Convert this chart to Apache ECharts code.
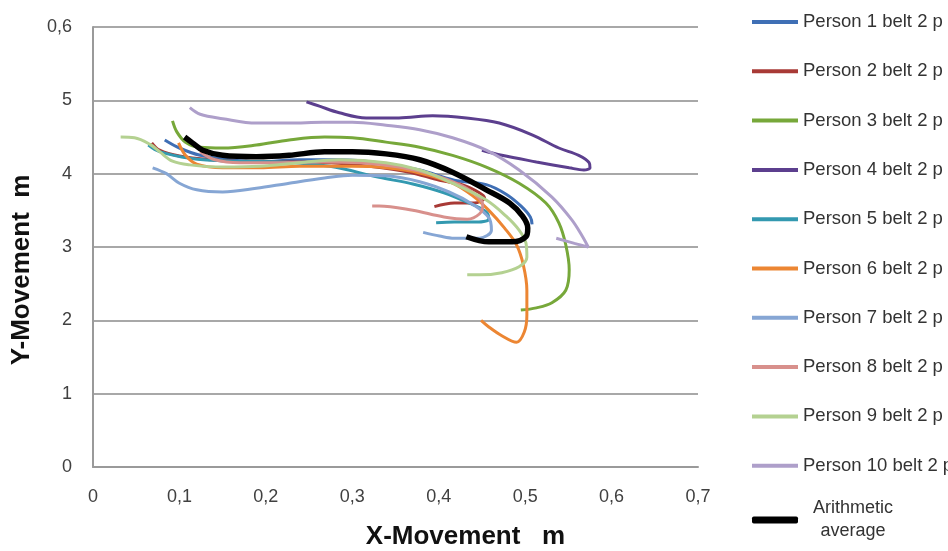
<!DOCTYPE html>
<html>
<head>
<meta charset="utf-8">
<script src="https://cdn.jsdelivr.net/npm/echarts@6/dist/echarts.min.js"></script>
<style>
html,body{margin:0;padding:0;background:#fff;}
#chart{width:948px;height:551px;}
</style>
</head>
<body>
<div id="chart"></div>
<script>
// ---- data (x in m, y in m) ----
var xTickLabels = ['0','0,1','0,2','0,3','0,4','0,5','0,6','0,7'];
var yTickLabels = ['0','1','2','3','4','5','0,6'];
var seriesNames = ['Person 1 belt 2 p','Person 2 belt 2 p','Person 3 belt 2 p','Person 4 belt 2 p','Person 5 belt 2 p','Person 6 belt 2 p','Person 7 belt 2 p','Person 8 belt 2 p','Person 9 belt 2 p','Person 10 belt 2 p','Arithmetic average'];

var person1 = [[0.083,4.46],[0.100,4.35],[0.124,4.25],[0.158,4.19],[0.193,4.16],[0.239,4.19],[0.285,4.19],[0.331,4.15],[0.378,4.05],[0.418,3.91],[0.455,3.85],[0.478,3.72],[0.495,3.56],[0.506,3.41],[0.508,3.31]];
var person2 = [[0.068,4.42],[0.077,4.32],[0.100,4.24],[0.135,4.19],[0.181,4.16],[0.227,4.16],[0.274,4.15],[0.320,4.10],[0.366,4.02],[0.401,3.91],[0.427,3.85],[0.447,3.74],[0.453,3.67],[0.441,3.60],[0.418,3.60],[0.395,3.55]];
var person3 = [[0.092,4.72],[0.097,4.57],[0.107,4.43],[0.124,4.36],[0.150,4.35],[0.189,4.39],[0.227,4.46],[0.268,4.50],[0.300,4.49],[0.339,4.43],[0.378,4.36],[0.416,4.25],[0.455,4.09],[0.493,3.87],[0.524,3.60],[0.539,3.33],[0.547,3.03],[0.551,2.69],[0.547,2.41],[0.531,2.24],[0.513,2.17],[0.495,2.14]];
var person4 = [[0.247,4.98],[0.262,4.92],[0.285,4.83],[0.316,4.76],[0.354,4.76],[0.393,4.79],[0.432,4.76],[0.470,4.69],[0.508,4.53],[0.539,4.35],[0.562,4.25],[0.574,4.15],[0.575,4.08],[0.568,4.05],[0.551,4.08],[0.513,4.16],[0.473,4.25],[0.450,4.32]];
var person5 = [[0.064,4.39],[0.077,4.30],[0.112,4.21],[0.158,4.17],[0.216,4.16],[0.274,4.10],[0.331,3.95],[0.370,3.86],[0.406,3.74],[0.435,3.60],[0.455,3.48],[0.458,3.38],[0.441,3.34],[0.418,3.34],[0.397,3.33]];
var person6 = [[0.099,4.42],[0.107,4.25],[0.120,4.13],[0.150,4.08],[0.193,4.08],[0.239,4.10],[0.300,4.10],[0.339,4.08],[0.378,4.01],[0.416,3.87],[0.439,3.70],[0.458,3.50],[0.476,3.26],[0.490,3.03],[0.498,2.75],[0.502,2.41],[0.502,2.07],[0.499,1.84],[0.490,1.70],[0.473,1.79],[0.458,1.91],[0.449,2.00]];
var person7 = [[0.069,4.08],[0.085,4.00],[0.100,3.87],[0.120,3.78],[0.150,3.75],[0.189,3.80],[0.227,3.87],[0.268,3.94],[0.300,3.98],[0.339,3.97],[0.378,3.89],[0.412,3.75],[0.441,3.57],[0.458,3.40],[0.461,3.23],[0.447,3.12],[0.418,3.12],[0.401,3.15],[0.382,3.20]];
var person8 = [[0.124,4.30],[0.141,4.19],[0.170,4.15],[0.216,4.15],[0.262,4.16],[0.308,4.15],[0.354,4.09],[0.395,3.98],[0.424,3.85],[0.443,3.71],[0.451,3.57],[0.447,3.45],[0.433,3.38],[0.406,3.41],[0.370,3.50],[0.331,3.56],[0.323,3.56]];
var person9 = [[0.032,4.50],[0.048,4.49],[0.066,4.40],[0.077,4.30],[0.092,4.17],[0.112,4.12],[0.150,4.09],[0.193,4.10],[0.239,4.15],[0.285,4.19],[0.339,4.15],[0.378,4.05],[0.416,3.87],[0.455,3.64],[0.478,3.42],[0.493,3.23],[0.501,3.05],[0.502,2.86],[0.493,2.73],[0.473,2.65],[0.447,2.62],[0.433,2.62]];
var person10 = [[0.112,4.90],[0.124,4.81],[0.150,4.75],[0.189,4.69],[0.227,4.69],[0.266,4.70],[0.300,4.70],[0.339,4.66],[0.378,4.60],[0.416,4.49],[0.455,4.32],[0.493,4.05],[0.531,3.68],[0.554,3.37],[0.566,3.15],[0.573,3.00],[0.557,3.05],[0.536,3.12]];
var average = [[0.106,4.50],[0.115,4.42],[0.127,4.32],[0.150,4.25],[0.189,4.23],[0.227,4.25],[0.268,4.30],[0.300,4.30],[0.339,4.27],[0.378,4.19],[0.416,4.02],[0.455,3.78],[0.482,3.60],[0.497,3.42],[0.503,3.26],[0.501,3.14],[0.485,3.07],[0.458,3.07],[0.432,3.14]];

var allData = [person1,person2,person3,person4,person5,person6,person7,person8,person9,person10,average];
var colors = ['#3F6FB5','#A83A36','#77A83A','#5C3F8E','#3399B0','#EC8633','#86A6D4','#D8908C','#B4D191','#AE9FCA','#000000'];

var series = allData.map(function(d, i){
  var isAvg = i === allData.length - 1;
  return {
    name: seriesNames[i],
    type: 'line',
    data: d,
    smooth: 0.35,
    showSymbol: false,
    symbol: 'none',
    color: colors[i],
    lineStyle: {color: colors[i], width: isAvg ? 5.5 : 3},
    itemStyle: {color: colors[i]},
    z: isAvg ? 5 : 3
  };
});

var FONT = 'Liberation Sans, Arial, sans-serif';
var chart = echarts.init(document.getElementById('chart'), null, {renderer: 'canvas'});
chart.setOption({
  animation: false,
  backgroundColor: '#ffffff',
  grid: {left: 93, right: 250, top: 27, bottom: 84, containLabel: false, outerBoundsMode: 'none'},
  xAxis: {
    type: 'value', min: 0, max: 0.7, interval: 0.1,
    name: 'X-Movement   m', nameLocation: 'middle', nameGap: 57,
    nameTextStyle: {fontFamily: FONT, fontSize: 26, fontWeight: 'bold', color: '#111', padding: [0,0,0,140]},
    axisLine: {show: true, lineStyle: {color: '#9a9a9a', width: 2}},
    axisTick: {show: false},
    splitLine: {show: false},
    axisLabel: {
      margin: 21, fontSize: 18, color: '#404040', fontFamily: FONT,
      formatter: function(v){ return xTickLabels[Math.round(v*10)]; }
    }
  },
  yAxis: {
    type: 'value', min: 0, max: 6, interval: 1,
    name: 'Y-Movement  m', nameLocation: 'middle', nameGap: 58,
    nameTextStyle: {fontFamily: FONT, fontSize: 26, fontWeight: 'bold', color: '#111', padding: [0,46,0,0]},
    axisLine: {show: true, lineStyle: {color: '#9a9a9a', width: 2}},
    axisTick: {show: false},
    splitLine: {show: true, lineStyle: {color: '#a8a8a8', width: 2}},
    axisLabel: {
      margin: 21, fontSize: 18, color: '#404040', fontFamily: FONT,
      formatter: function(v){ return yTickLabels[Math.round(v)]; }
    }
  },
  legend: [{
    orient: 'vertical', left: 747, top: 7, width: 300,
    icon: 'rect', itemWidth: 46, itemHeight: 4, itemGap: 29.3, itemTextGap: 4,
    data: seriesNames.slice(0, 10),
    textStyle: {fontSize: 18.5, lineHeight: 20, color: '#333', fontFamily: FONT, width: 220, overflow: 'none'}
  },{
    orient: 'vertical', left: 747, top: 492,
    icon: 'roundRect', itemWidth: 46, itemHeight: 7, itemTextGap: 8,
    data: [seriesNames[10]],
    formatter: function(){ return '{a|Arithmetic}\n{a|average}'; },
    textStyle: {
      fontSize: 18, lineHeight: 23, color: '#333', fontFamily: FONT,
      rich: {a: {width: 100, align: 'center', fontSize: 18, lineHeight: 23, color: '#333', fontFamily: FONT}}
    }
  }],
  series: series
});
</script>
</body>
</html>
